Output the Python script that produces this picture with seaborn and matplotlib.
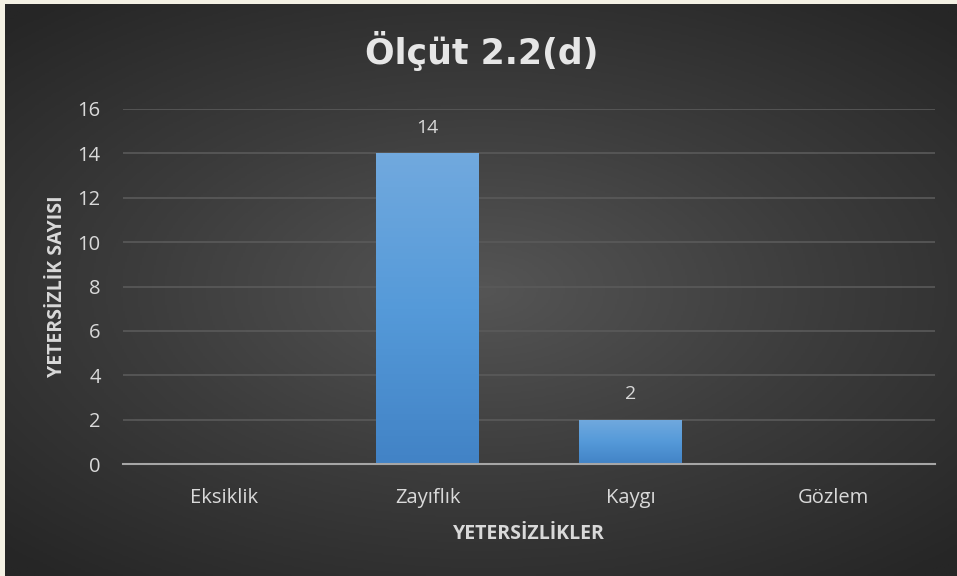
import numpy as np
import pandas as pd
import matplotlib
matplotlib.use("Agg")
import matplotlib.pyplot as plt
import seaborn as sns
from matplotlib.colors import LinearSegmentedColormap

categories = ["Eksiklik", "Zayıflık", "Kaygı", "Gözlem"]
values = [0, 14, 2, 0]
yticks = [0, 2, 4, 6, 8, 10, 12, 14, 16]
title = "Ölçüt 2.2(d)"
xlabel = "YETERSİZLİKLER"
ylabel = "YETERSİZLİK SAYISI"

df = pd.DataFrame({"cat": categories, "val": values})

sns.set_theme(style="dark")
plt.rcParams["font.family"] = ["Open Sans", "DejaVu Sans"]

W, H = 957, 576
fig = plt.figure(figsize=(W / 100, H / 100), dpi=100)
fig.patch.set_facecolor("#f4f1e4")

# radial gradient background panel
bg = fig.add_axes([5 / W, 0, 1 - 5 / W, 1 - 4 / H], zorder=0)
yy, xx = np.mgrid[-1:1:300j, -1:1:500j]
r = np.sqrt((xx * 0.9) ** 2 + (yy * 1.0) ** 2)
cmap = LinearSegmentedColormap.from_list("bg", ["#555555", "#3c3c3c", "#262626"])
bg.imshow(r, cmap=cmap, aspect="auto", extent=[0, 1, 0, 1], vmin=0, vmax=1.3)
bg.set_axis_off()

ax = fig.add_axes([123 / W, 1 - 464 / H, (935 - 123) / W, (464 - 109) / H], zorder=1)
ax.patch.set_alpha(0)

sns.barplot(data=df, x="cat", y="val", ax=ax, color="#5b9bd5", width=0.507,
            saturation=1, zorder=3, edgecolor="none", linewidth=0)

# gradient fill for bars
grad = np.linspace(0, 1, 100).reshape(-1, 1)
bcmap = LinearSegmentedColormap.from_list("bar", ["#4283c6", "#559ad9", "#71a9de"])
for p in ax.patches:
    h = p.get_height()
    if h <= 0:
        p.set_visible(False)
        continue
    x0 = p.get_x(); w = p.get_width()
    im = ax.imshow(grad, cmap=bcmap, aspect="auto", extent=[x0, x0 + w, 0, h],
                   origin="lower", zorder=3.5)
    im.set_clip_path(p)
    ax.text(x0 + w / 2, h + 1.15, f"{int(h)}", ha="center", va="center",
            color="#d9d9d9", fontsize=14)

ax.set_xlim(-0.5, 3.5)
ax.set_ylim(0, 16)
ax.set_yticks(yticks)
ax.set_yticklabels([str(t) for t in yticks])
ax.yaxis.grid(True, color="#5a5a5a", linewidth=1.2, zorder=0)
ax.xaxis.grid(False)
for s in ["top", "right", "left"]:
    ax.spines[s].set_visible(False)
ax.spines["bottom"].set_color("#a6a6a6")
ax.spines["bottom"].set_linewidth(1.5)
ax.spines["bottom"].set_zorder(5)
ax.tick_params(axis="both", length=0, colors="#d9d9d9", labelsize=14.5)
ax.tick_params(axis="x", pad=17)
ax.tick_params(axis="y", pad=16)

ax.set_xlabel(xlabel, color="#d9d9d9", fontsize=14, fontweight="bold", labelpad=12)
ax.set_ylabel(ylabel, color="#d9d9d9", fontsize=14, fontweight="bold", labelpad=8)

fig.text(482 / W, 1 - 51 / H, title, ha="center", va="center", color="#e6e6e6",
         fontsize=25, fontweight="bold", family=["DejaVu Sans"])

fig.savefig("out.png", dpi=100)
